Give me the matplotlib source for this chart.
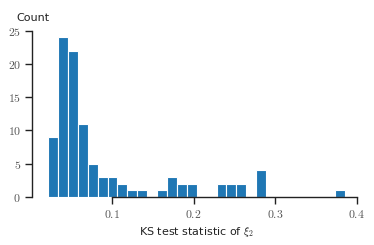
import matplotlib
matplotlib.use("Agg")
import matplotlib.pyplot as plt
import numpy as np

# histogram of KS statistics (30 bins)
bin_lo = 0.0217
bin_hi = 0.386
counts = [9, 24, 22, 11, 5, 3, 3, 2, 1, 1,
          0, 1, 3, 2, 2, 0, 0, 2, 2, 2,
          0, 4, 0, 0, 0, 0, 0, 0, 0, 1]
xticks = [0.1, 0.2, 0.3, 0.4]
yticks = [0, 5, 10, 15, 20, 25]

plt.rcParams['mathtext.fontset'] = 'cm'
plt.rcParams['font.family'] = 'DejaVu Sans'

edges = np.linspace(bin_lo, bin_hi, len(counts) + 1)
centers = (edges[:-1] + edges[1:]) / 2

fig = plt.figure(figsize=(3.74, 2.45), dpi=100)
ax = fig.add_axes([0.0856, 0.196, 0.877, 0.684])
ax.hist(centers, bins=edges, weights=counts, color='#1f77b4',
        edgecolor='white', linewidth=0.8)

ax.set_xlim(0.002, 0.404)
ax.set_ylim(0, 25.2)
ax.set_xticks(xticks)
ax.set_xticklabels([f'${t:g}$' for t in xticks], fontsize=8.5)
ax.set_yticks(yticks)
ax.set_yticklabels([f'${t}$' for t in yticks], fontsize=8.5)

for s in ['top', 'right']:
    ax.spines[s].set_visible(False)
ax.spines['bottom'].set_bounds(0.1, 0.4)
ax.spines['left'].set_bounds(0, 25)
for s in ['bottom', 'left']:
    ax.spines[s].set_linewidth(1.0)
    ax.spines[s].set_color('#222222')
ax.tick_params(axis='both', direction='out', length=5, width=1.0,
               color='#222222', labelcolor='#555555', pad=3)

ax.set_xlabel(r'KS test statistic of $\xi_2$', fontsize=8, color='#222222')
ax.xaxis.set_label_coords(0.5, -0.165)
ax.set_ylabel('Count', rotation=0, fontsize=8, ha='left', va='bottom',
              color='#222222')
ax.yaxis.set_label_coords(-0.047, 1.04)

fig.savefig('out.png', dpi=100)
